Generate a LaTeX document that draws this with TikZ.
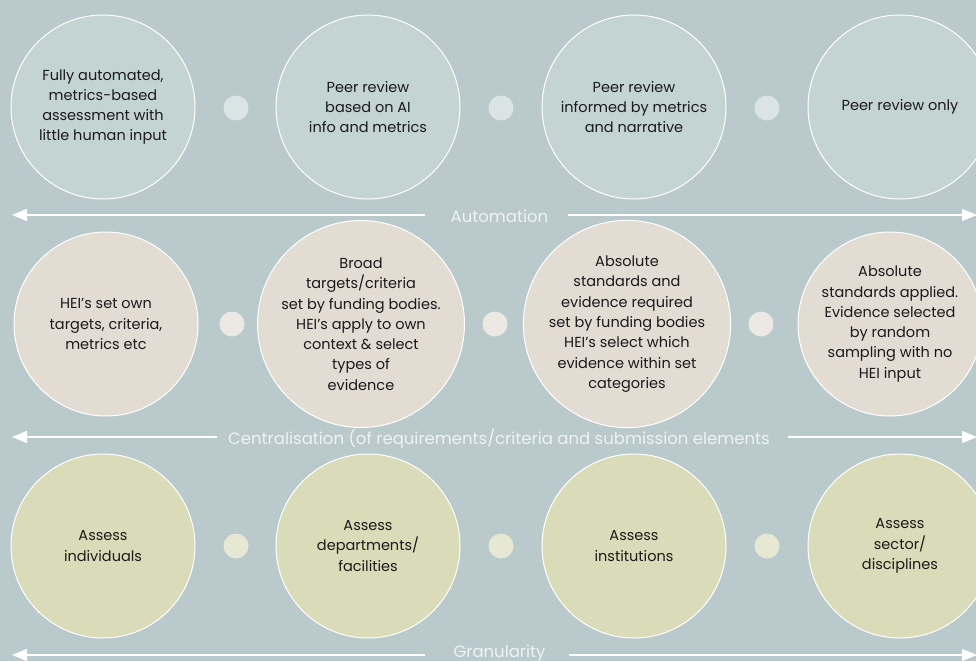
\documentclass[tikz,border=0pt]{standalone}
\usepackage{fontspec}
\setmainfont{Poppins}
\usetikzlibrary{arrows.meta}
\definecolor{bg}{HTML}{B9C9CC}
\definecolor{fillA}{HTML}{C4D4D3}
\definecolor{fillB}{HTML}{E3DCD2}
\definecolor{fillC}{HTML}{DADBB8}
\definecolor{dotA}{HTML}{DBE4E4}
\definecolor{dotB}{HTML}{ECE8E3}
\definecolor{dotC}{HTML}{E6E8D3}
\definecolor{txt}{HTML}{1A1A1A}
\definecolor{lbl}{HTML}{EEF3F3}
\begin{document}
\begin{tikzpicture}[x=1pt,y=-1pt,
  bubble/.style={circle,draw=white,line width=1pt,minimum size=184pt,inner sep=0pt,
    align=center,text=txt,font=\fontsize{14.5}{20.3}\selectfont},
  dotnode/.style={circle,minimum size=25pt,inner sep=0pt},
  axislabel/.style={text=lbl,font=\fontsize{16.5}{18}\selectfont,inner sep=0pt,anchor=base},
  axis/.style={draw=white,line width=1.1pt,-{Triangle[length=15pt,width=12pt]}}]
\fill[bg] (0,0) rectangle (976,661);
\useasboundingbox (0,0) rectangle (976,661);
% Row 1
\node[bubble,fill=fillA] (a1) at (103,107) {Fully automated,\\metrics-based\\assessment with\\little human input};
\node[bubble,fill=fillA] (a2) at (368,107) {Peer review\\based on AI\\info and metrics};
\node[bubble,fill=fillA] (a3) at (634,107) {Peer review\\informed by metrics\\and narrative};
\node[bubble,fill=fillA] (a4) at (900,107) {Peer review only};
\node[dotnode,fill=dotA] (da1) at (236,108) {};
\node[dotnode,fill=dotA] (da2) at (501,108) {};
\node[dotnode,fill=dotA] (da3) at (767,108) {};
\coordinate (la) at (12,215);
\coordinate (ra) at (977,215);
\coordinate (ga1) at (425,215);
\coordinate (ga2) at (568,215);
\node[axislabel] (ta) at (499.5,222) {Automation};
\draw[axis] (ga1) -- (la);
\draw[axis] (ga2) -- (ra);
% Row 2
\node[bubble,fill=fillB] (b1) at (106,324) {HEI’s set own\\targets, criteria,\\metrics etc};
\node[bubble,fill=fillB] (b2) at (361,324) {Broad\\targets/criteria\\set by funding bodies.\\HEI’s apply to own\\context \& select\\types of\\evidence};
\node[bubble,fill=fillB] (b3) at (627,324) {Absolute\\standards and\\evidence required\\set by funding bodies\\HEI’s select which\\evidence within set\\categories};
\node[bubble,fill=fillB] (b4) at (890,324) {Absolute\\standards applied.\\Evidence selected\\by random\\sampling with no\\HEI input};
\node[dotnode,fill=dotB] (db1) at (232,324) {};
\node[dotnode,fill=dotB] (db2) at (495,324) {};
\node[dotnode,fill=dotB] (db3) at (761,324) {};
\coordinate (lb) at (12,437);
\coordinate (rb) at (977,437);
\coordinate (gb1) at (217,437);
\coordinate (gb2) at (788,437);
\node[axislabel] (tb) at (499,444) {Centralisation (of requirements/criteria and submission elements};
\draw[axis] (gb1) -- (lb);
\draw[axis] (gb2) -- (rb);
% Row 3
\node[bubble,fill=fillC] (c1) at (103,546) {Assess\\individuals};
\node[bubble,fill=fillC] (c2) at (368,546) {Assess\\departments/\\facilities};
\node[bubble,fill=fillC] (c3) at (634,546) {Assess\\institutions};
\node[bubble,fill=fillC] (c4) at (900,546) {Assess\\sector/\\disciplines};
\node[dotnode,fill=dotC] (dc1) at (236,546) {};
\node[dotnode,fill=dotC] (dc2) at (501,546) {};
\node[dotnode,fill=dotC] (dc3) at (767,546) {};
\coordinate (lc) at (12,655);
\coordinate (rc) at (977,655);
\coordinate (gc1) at (425,655);
\coordinate (gc2) at (569,655);
\node[axislabel] (tc) at (499.5,657) {Granularity};
\draw[axis] (gc1) -- (lc);
\draw[axis] (gc2) -- (rc);
\end{tikzpicture}
\end{document}
